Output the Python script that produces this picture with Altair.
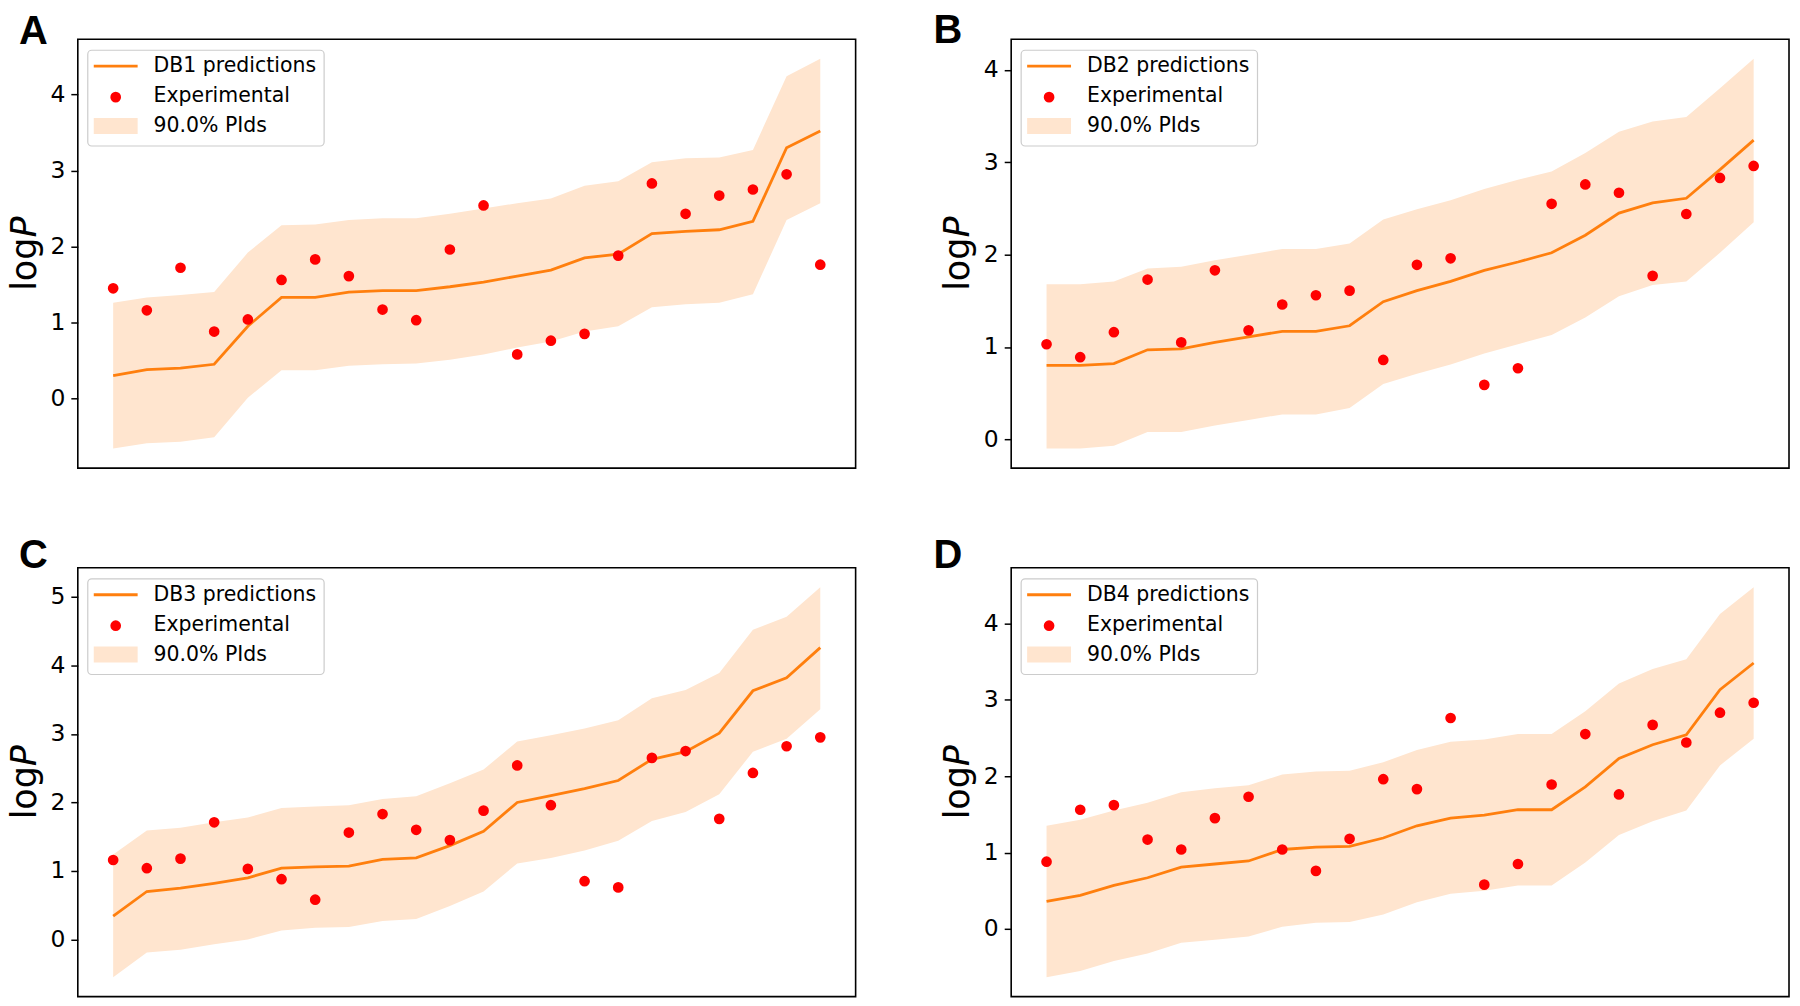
import altair as alt
import pandas as pd

# ---------------- data ----------------
panel_letters = ["A", "B", "C", "D"]
db_names = ["DB1", "DB2", "DB3", "DB4"]

exp_A = [1.45, 1.16, 1.72, 0.88, 1.04, 1.56, 1.83, 1.61, 1.17, 1.03, 1.96,
         2.54, 0.58, 0.76, 0.85, 1.88, 2.83, 2.43, 2.67, 2.75, 2.95, 1.76]
pred_A = [0.30, 0.38, 0.40, 0.45, 0.95, 1.33, 1.33, 1.40, 1.42, 1.42, 1.47,
          1.53, 1.61, 1.69, 1.85, 1.90, 2.17, 2.20, 2.22, 2.33, 3.30, 3.52]
upper_A = [1.26, 1.33, 1.36, 1.40, 1.92, 2.28, 2.29, 2.35, 2.37, 2.37, 2.43,
           2.50, 2.57, 2.63, 2.80, 2.86, 3.11, 3.16, 3.17, 3.27, 4.24, 4.47]
lower_A = [-0.66, -0.59, -0.57, -0.51, 0.01, 0.37, 0.37, 0.43, 0.45, 0.46, 0.51,
           0.58, 0.67, 0.75, 0.88, 0.95, 1.20, 1.24, 1.26, 1.37, 2.35, 2.57]

exp_B = [1.03, 0.89, 1.16, 1.73, 1.05, 1.83, 1.18, 1.46, 1.56, 1.61, 0.86,
         1.89, 1.96, 0.59, 0.77, 2.55, 2.76, 2.67, 1.77, 2.44, 2.83, 2.96]
pred_B = [0.80, 0.80, 0.82, 0.97, 0.98, 1.05, 1.11, 1.17, 1.17, 1.23, 1.49,
          1.61, 1.71, 1.83, 1.92, 2.02, 2.21, 2.45, 2.56, 2.61, 2.92, 3.24]
upper_B = [1.68, 1.68, 1.71, 1.85, 1.87, 1.94, 2.00, 2.06, 2.06, 2.12, 2.38,
           2.49, 2.59, 2.71, 2.81, 2.90, 3.10, 3.33, 3.44, 3.49, 3.80, 4.12]
lower_B = [-0.10, -0.10, -0.07, 0.08, 0.08, 0.15, 0.21, 0.27, 0.27, 0.34, 0.60,
           0.71, 0.81, 0.93, 1.03, 1.13, 1.32, 1.55, 1.67, 1.71, 2.02, 2.35]

exp_C = [1.16, 1.04, 1.18, 1.71, 1.03, 0.88, 0.58, 1.56, 1.83, 1.60, 1.45,
         1.88, 2.54, 1.96, 0.85, 0.76, 2.65, 2.75, 1.76, 2.43, 2.82, 2.95]
pred_C = [0.34, 0.70, 0.75, 0.82, 0.90, 1.04, 1.06, 1.07, 1.17, 1.19, 1.37,
          1.58, 2.00, 2.10, 2.20, 2.32, 2.63, 2.74, 3.01, 3.63, 3.82, 4.26]
upper_C = [1.24, 1.59, 1.63, 1.71, 1.78, 1.92, 1.94, 1.96, 2.05, 2.09, 2.28,
           2.48, 2.89, 2.98, 3.08, 3.20, 3.52, 3.64, 3.89, 4.52, 4.71, 5.14]
lower_C = [-0.55, -0.19, -0.15, -0.07, 0.00, 0.13, 0.17, 0.18, 0.27, 0.30, 0.49,
           0.70, 1.11, 1.19, 1.30, 1.44, 1.73, 1.86, 2.12, 2.74, 2.93, 3.36]

exp_D = [0.88, 1.56, 1.62, 1.17, 1.04, 1.45, 1.73, 1.04, 0.76, 1.18, 1.96,
         1.83, 2.76, 0.58, 0.85, 1.89, 2.55, 1.76, 2.67, 2.44, 2.83, 2.96]
pred_D = [0.36, 0.44, 0.57, 0.67, 0.81, 0.85, 0.89, 1.04, 1.07, 1.08, 1.19,
          1.35, 1.45, 1.49, 1.56, 1.56, 1.86, 2.23, 2.41, 2.54, 3.13, 3.48]
upper_D = [1.35, 1.43, 1.55, 1.65, 1.79, 1.84, 1.88, 2.02, 2.06, 2.07, 2.18,
           2.34, 2.45, 2.48, 2.55, 2.55, 2.85, 3.21, 3.40, 3.53, 4.12, 4.47]
lower_D = [-0.63, -0.55, -0.42, -0.32, -0.18, -0.14, -0.10, 0.03, 0.08, 0.09, 0.19,
           0.35, 0.46, 0.50, 0.57, 0.57, 0.87, 1.23, 1.41, 1.55, 2.14, 2.49]

y_ticks_A = [0, 1, 2, 3, 4]
y_ticks_B = [0, 1, 2, 3, 4]
y_ticks_C = [0, 1, 2, 3, 4, 5]
y_ticks_D = [0, 1, 2, 3, 4]

legend_labels = ["predictions", "Experimental", "90.0% PIds"]

# ---------------- style ----------------
ORANGE = "#ff7f0e"
BAND = "#ffe5cf"
RED = "#ff0000"
W, H = 780, 430
TICK_FS = 23.5

panels = [
    (exp_A, pred_A, upper_A, lower_A, y_ticks_A, -59, 5),
    (exp_B, pred_B, upper_B, lower_B, y_ticks_B, -78, 4),
    (exp_C, pred_C, upper_C, lower_C, y_ticks_C, -59, 0),
    (exp_D, pred_D, upper_D, lower_D, y_ticks_D, -78, 0),
]

dummy = pd.DataFrame({"k": [0]})


def make_panel(i):
    exp, pred, upper, lower, ticks, letter_dx, letter_dy = panels[i]
    n = len(exp)
    df = pd.DataFrame({"idx": list(range(n)), "exp": exp, "pred": pred,
                       "upper": upper, "lower": lower})
    xpad = 0.05 * (n - 1)
    lo, hi = min(lower), max(upper)
    ypad = 0.05 * (hi - lo)
    xs = alt.Scale(domain=[-xpad, n - 1 + xpad], nice=False, zero=False)
    ys = alt.Scale(domain=[lo - ypad, hi + ypad], nice=False, zero=False)
    X = alt.X("idx:Q", scale=xs, axis=None)
    yaxis = alt.Axis(values=ticks, title=None, grid=False, domain=False,
                     tickSize=7, tickWidth=1.5, tickColor="black",
                     labelFontSize=TICK_FS, labelFont="DejaVu Sans",
                     labelColor="black", labelPadding=6, format="d")
    base = alt.Chart(df)
    band = base.mark_area(color=BAND, opacity=1).encode(
        x=X, y=alt.Y("lower:Q", scale=ys, axis=yaxis, title=None), y2="upper:Q")
    line = base.mark_line(color=ORANGE, strokeWidth=2.8).encode(
        x=X, y=alt.Y("pred:Q", scale=ys, axis=yaxis, title=None))
    pts = base.mark_circle(color=RED, size=115, opacity=1).encode(
        x=X, y=alt.Y("exp:Q", scale=ys, axis=yaxis, title=None))

    d = alt.Chart(dummy)
    frame = d.mark_rect(fill="white", fillOpacity=0.8, stroke="#cccccc",
                        strokeWidth=1.2, cornerRadius=4).encode(
        x=alt.value(10), x2=alt.value(247), y=alt.value(11), y2=alt.value(107))
    lg_line = d.mark_rule(color=ORANGE, strokeWidth=2.8).encode(
        x=alt.value(16), x2=alt.value(60), y=alt.value(27))
    lg_pt = d.mark_circle(color=RED, size=115, opacity=1).encode(
        x=alt.value(38), y=alt.value(58))
    lg_band = d.mark_rect(fill=BAND).encode(
        x=alt.value(16), x2=alt.value(60), y=alt.value(79), y2=alt.value(95))
    labels = [f"{db_names[i]} {legend_labels[0]}", legend_labels[1], legend_labels[2]]
    txts = [d.mark_text(align="left", baseline="middle", fontSize=20.5,
                        font="DejaVu Sans", color="black").encode(
        x=alt.value(76), y=alt.value(27 + 30 * k), text=alt.value(lab))
        for k, lab in enumerate(labels)]
    total = 2.128 * 35
    start = H / 2 + total / 2
    t_log = d.mark_text(align="left", baseline="alphabetic", angle=270,
                        fontSize=35, font="DejaVu Sans", color="black").encode(
        x=alt.value(-42), y=alt.value(start), text=alt.value("log"))
    t_p = d.mark_text(align="left", baseline="alphabetic", angle=270,
                      fontSize=35, font="DejaVu Sans", fontStyle="italic",
                      color="black").encode(
        x=alt.value(-42), y=alt.value(start - 1.525 * 35), text=alt.value("P"))
    letter = d.mark_text(align="left", baseline="alphabetic", fontSize=40,
                         font="Liberation Sans", fontWeight="bold",
                         color="black").encode(
        x=alt.value(letter_dx), y=alt.value(letter_dy),
        text=alt.value(panel_letters[i]))
    return alt.layer(band, line, pts, frame, lg_line, lg_pt, lg_band,
                     *txts, t_log, t_p, letter).properties(width=W, height=H)


chart = alt.concat(
    *[make_panel(i) for i in range(4)], columns=2,
    spacing={"row": 100, "column": 156}, bounds="flush"
).properties(
    padding={"left": -1, "top": 1, "right": 2, "bottom": 2}
).configure_view(
    stroke="black", strokeWidth=1.6
).configure_axis(
    labelFontSize=TICK_FS, labelFont="DejaVu Sans", labelColor="black"
)

chart.save("out.html", embed_options={"renderer": "svg", "actions": False})
